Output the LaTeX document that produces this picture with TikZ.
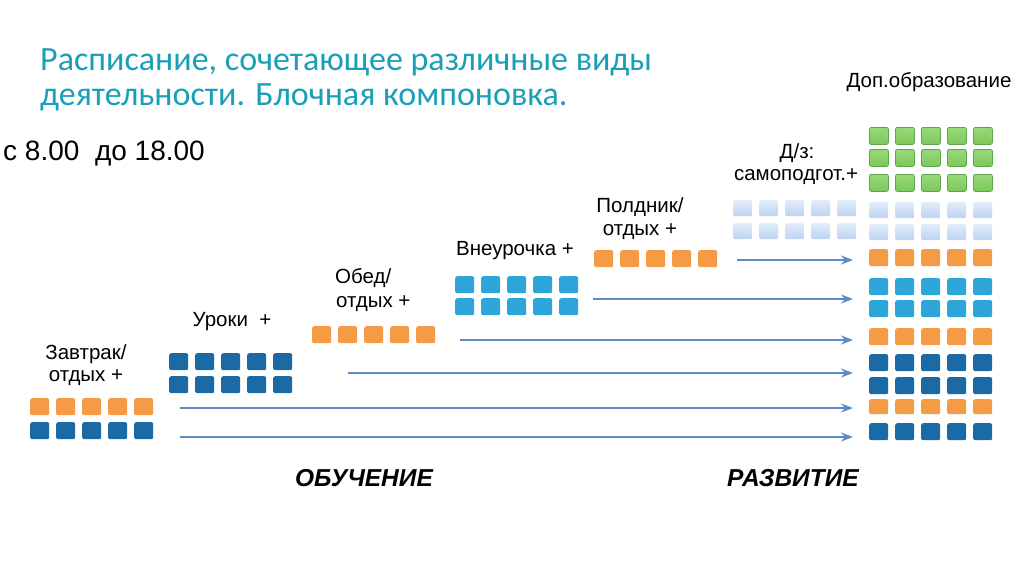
\documentclass[tikz,border=0pt]{standalone}
\usepackage{fontspec}
\setmainfont{Liberation Sans}
\newfontfamily\titlefont{Carlito}
\usetikzlibrary{arrows.meta}
\definecolor{ttl}{HTML}{1A9FB8}
\definecolor{org}{HTML}{F59A45}
\definecolor{dkb}{HTML}{1C6AA5}
\definecolor{ltb}{HTML}{2FA6DA}
\definecolor{paleT}{HTML}{E2ECFA}
\definecolor{paleB}{HTML}{BCD3F1}
\definecolor{grn}{HTML}{7CC85A}
\definecolor{grnT}{HTML}{9AD97A}
\definecolor{grnD}{HTML}{5BA84A}
\definecolor{arrc}{HTML}{5B8BC9}
\newcommand\sqrow[4]{%
  \foreach \i in {0,...,4} \node[#4, anchor=north west] (#1-\i) at ({#2+26*\i},#3) {};}
\begin{document}
\begin{tikzpicture}[x=1pt,y=-1pt,
  sqbase/.style={minimum width=19pt, minimum height=17pt, inner sep=0pt, rounded corners=2pt},
  sqo/.style={sqbase, fill=org},
  sqd/.style={sqbase, fill=dkb},
  sql/.style={sqbase, fill=ltb},
  sqp/.style={sqbase, top color=paleT, bottom color=paleB, minimum height=16pt},
  sqg/.style={sqbase, top color=grnT, bottom color=grn, draw=grnD, line width=0.8pt},
  lbl/.style={font=\fontsize{20.5}{24}\selectfont, inner sep=0pt, anchor=base},
  big/.style={font=\fontsize{24.5}{28}\selectfont\bfseries\itshape, inner sep=0pt, anchor=base},
  arr/.style={draw=arrc, line width=1.6pt, -{Stealth[length=12pt,width=9pt]}}
]
\useasboundingbox (0,0) rectangle (1024,574);
\fill[white] (0,0) rectangle (1024,574);

% title
\node[inner sep=0pt, anchor=base west, text=ttl, font=\titlefont\fontsize{34}{36}\selectfont] (t1) at (40,70) {Расписание, сочетающее различные виды};
\node[inner sep=0pt, anchor=base west, text=ttl, font=\titlefont\fontsize{34}{36}\selectfont] (t2) at (40,105) {деятельности. Блочная компоновка.};
\node[inner sep=0pt, anchor=base west, font=\fontsize{28}{32}\selectfont] (time) at (3,160) {с 8.00\ \ до 18.00};

% labels
\node[lbl] (dop) at (929,87) {Доп.образование};
\node[lbl] (dz1) at (797,158) {Д/з:};
\node[lbl] (dz2) at (796,180) {самоподгот.+};
\node[lbl] (pd1) at (640,212) {Полдник/};
\node[lbl] (pd2) at (640,235) {отдых +};
\node[lbl] (vn) at (515,255) {Внеурочка +};
\node[lbl, anchor=base west] (ob1) at (335,283) {Обед/};
\node[lbl, anchor=base west] (ob2) at (336,307) {отдых +};
\node[lbl] (ur) at (232,326) {Уроки\ \ +};
\node[lbl] (zv1) at (86,359) {Завтрак/};
\node[lbl] (zv2) at (86,381) {отдых +};
\node[big] (obu) at (364,486) {ОБУЧЕНИЕ};
\node[big] (raz) at (793,486) {РАЗВИТИЕ};

% left staircase blocks
\sqrow{zo}{30}{398}{sqo}
\sqrow{zd}{30}{422}{sqd}
\sqrow{ua}{169}{353}{sqd}
\sqrow{ub}{169}{376}{sqd}
\sqrow{oo}{312}{326}{sqo}
\sqrow{va}{455}{276}{sql}
\sqrow{vb}{455}{298}{sql}
\sqrow{po}{594}{250}{sqo}
\sqrow{da}{733}{200}{sqp}
\sqrow{db}{733}{223}{sqp}

% right stack
\sqrow{rg1}{869}{127}{sqg}
\sqrow{rg2}{869}{149}{sqg}
\sqrow{rg3}{869}{174}{sqg}
\sqrow{rp1}{869}{202}{sqp}
\sqrow{rp2}{869}{224}{sqp}
\sqrow{ro1}{869}{249}{sqo}
\sqrow{rl1}{869}{278}{sql}
\sqrow{rl2}{869}{300}{sql}
\sqrow{ro2}{869}{328}{sqo}
\sqrow{rd1}{869}{354}{sqd}
\sqrow{rd2}{869}{377}{sqd}
\node[sqo, minimum height=15pt, anchor=north west] (ro3-0) at (869,399) {};
\foreach \i in {1,...,4} \node[sqo, minimum height=15pt, anchor=north west] (ro3-\i) at ({869+26*\i},399) {};
\sqrow{rd3}{869}{423}{sqd}

% arrows
\coordinate (a1s) at (737,260); \coordinate (a1e) at (853,260);
\coordinate (a2s) at (593,299); \coordinate (a2e) at (853,299);
\coordinate (a3s) at (460,340); \coordinate (a3e) at (853,340);
\coordinate (a4s) at (348,373); \coordinate (a4e) at (853,373);
\coordinate (a5s) at (180,408); \coordinate (a5e) at (853,408);
\coordinate (a6s) at (180,437); \coordinate (a6e) at (853,437);
\foreach \k in {1,...,6} \draw[arr] (a\k s) -- (a\k e);
\end{tikzpicture}
\end{document}
